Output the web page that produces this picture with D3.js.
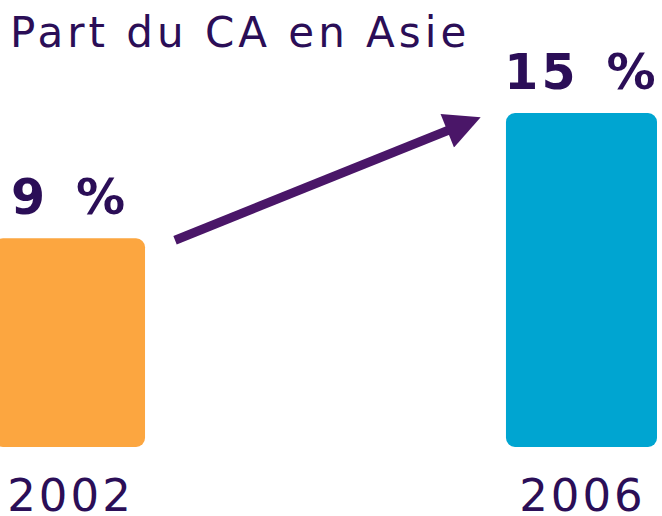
<!DOCTYPE html>
<html>
<head>
<meta charset="utf-8">
<script src="https://cdn.jsdelivr.net/npm/d3@7/dist/d3.min.js"></script>
<style>
  body { margin: 0; background: #fff; }
  svg { display: block; }
</style>
</head>
<body>
<div id="chart"></div>
<script>
////////////////////////////////////////////////////////////////////////////////
// Data
var years = ['2002', '2006'];
var shares = [9, 15];
var labels = ['9 %', '15 %'];
var colors = ['#FCA640', '#00A5D1'];
var title = 'Part du CA en Asie';

var W = 662, H = 516;
var purple = '#2B0E57';

var svg = d3.select('#chart').append('svg')
  .attr('width', W)
  .attr('height', H);

var x = d3.scaleBand()
  .domain(years)
  .range([-6, 657])
  .paddingInner(0.705)
  .paddingOuter(0);

var y = d3.scaleLinear()
  .domain([-1, 15])
  .range([447, 113]);

////////////////////////////////////////////////////////////////////////////////
// Title
svg.append('text')
  .attr('x', 10)
  .attr('y', 47)
  .style('font-family', 'DejaVu Sans')
  .style('font-size', '42px')
  .style('letter-spacing', '4px')
  .style('fill', purple)
  .text(title);

////////////////////////////////////////////////////////////////////////////////
// Bars
svg.selectAll('rect.bar')
  .data(years)
  .enter()
  .append('rect')
  .attr('class', 'bar')
  .attr('x', function(d) { return x(d); })
  .attr('y', function(d, i) { return y(shares[i]); })
  .attr('width', x.bandwidth())
  .attr('height', function(d, i) { return y(-1) - y(shares[i]); })
  .attr('rx', 9)
  .attr('fill', function(d, i) { return colors[i]; });

// Value labels
svg.selectAll('text.val')
  .data(years)
  .enter()
  .append('text')
  .attr('class', 'val')
  .attr('x', function(d) { return x(d) + x.bandwidth() / 2; })
  .attr('y', function(d, i) { return y(shares[i]) - 24; })
  .attr('text-anchor', 'middle')
  .style('font-family', 'DejaVu Sans')
  .style('font-weight', 'bold')
  .style('font-size', '49px')
  .style('letter-spacing', '3px')
  .style('word-spacing', '8px')
  .style('fill', purple)
  .text(function(d, i) { return labels[i]; });

// Year labels
svg.selectAll('text.year')
  .data(years)
  .enter()
  .append('text')
  .attr('class', 'year')
  .attr('x', function(d) { return x(d) + x.bandwidth() / 2 + 1; })
  .attr('y', 511)
  .attr('text-anchor', 'middle')
  .style('font-family', 'DejaVu Sans')
  .style('font-size', '45px')
  .style('letter-spacing', '3px')
  .style('fill', purple)
  .text(function(d) { return d; });

////////////////////////////////////////////////////////////////////////////////
// Arrow between the bars
svg.append('defs').append('marker')
  .attr('id', 'head')
  .attr('viewBox', '0 0 10 10')
  .attr('refX', 2)
  .attr('refY', 5)
  .attr('markerWidth', 4.2)
  .attr('markerHeight', 4)
  .attr('orient', 'auto')
  .append('path')
  .attr('d', 'M0,0 L10,5 L0,10 z')
  .attr('fill', '#4A1668');

var x0 = x(years[0]) + x.bandwidth() + 30,
    y0 = y(shares[0]) + 2,
    x1 = x(years[1]) - 52,
    y1 = y(shares[1]) + 15;

svg.append('line')
  .attr('x1', x0)
  .attr('y1', y0)
  .attr('x2', x1)
  .attr('y2', y1)
  .attr('stroke', '#4A1668')
  .attr('stroke-width', 9)
  .attr('marker-end', 'url(#head)');
</script>
</body>
</html>
